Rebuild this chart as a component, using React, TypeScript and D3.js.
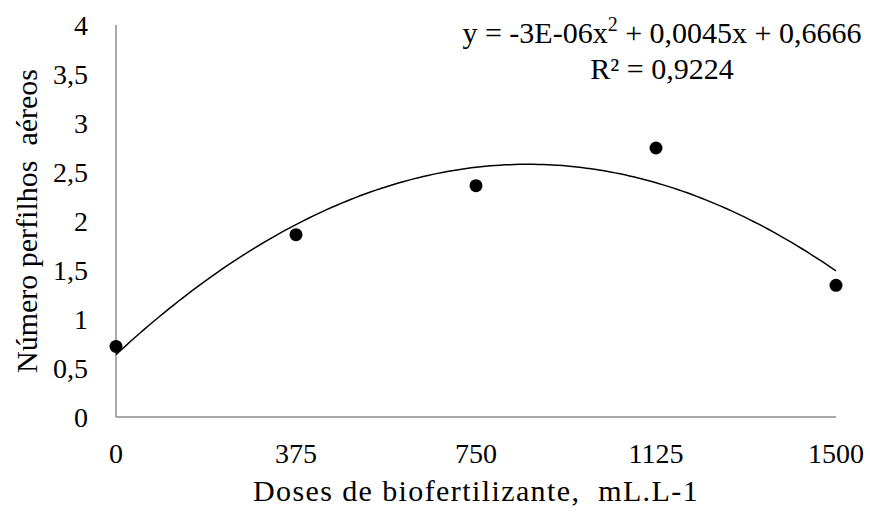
import React, { useEffect, useRef } from 'react';
import * as d3 from 'd3';

const doses = [0, 375, 750, 1125, 1500];
const perfilhos = [0.72, 1.86, 2.36, 2.745, 1.344];
const yTicks = [0, 0.5, 1, 1.5, 2, 2.5, 3, 3.5, 4];
const xTicks = [0, 375, 750, 1125, 1500];
const equationLabel = ['y = -3E-06x', '2', ' + 0,0045x + 0,6666'];
const r2Label = 'R² = 0,9224';
const xTitle = 'Doses de biofertilizante,  mL.L-1';
const yTitle = 'Número perfilhos  aéreos';

// least squares quadratic fit (what the spreadsheet trendline does)
function fitQuadratic(xs: number[], ys: number[]) {
  const s = [0, 0, 0, 0, 0];
  const t = [0, 0, 0];
  xs.forEach((x, i) => {
    for (let k = 0; k < 5; k++) s[k] += Math.pow(x, k);
    for (let k = 0; k < 3; k++) t[k] += Math.pow(x, k) * ys[i];
  });
  const m = [
    [s[0], s[1], s[2], t[0]],
    [s[1], s[2], s[3], t[1]],
    [s[2], s[3], s[4], t[2]],
  ];
  for (let c = 0; c < 3; c++) {
    for (let r = c + 1; r < 3; r++) {
      const f = m[r][c] / m[c][c];
      for (let k = c; k < 4; k++) m[r][k] -= f * m[c][k];
    }
  }
  const coef = [0, 0, 0];
  for (let r = 2; r >= 0; r--) {
    let v = m[r][3];
    for (let k = r + 1; k < 3; k++) v -= m[r][k] * coef[k];
    coef[r] = v / m[r][r];
  }
  return (x: number) => coef[0] + coef[1] * x + coef[2] * x * x;
}

const FONT = '"Times New Roman", "Liberation Serif", "DejaVu Serif", serif';

export default function App() {
  const svgRef = useRef<SVGSVGElement>(null);

  useEffect(() => {
    const svg = d3.select(svgRef.current);
    svg.selectAll('*').remove();

    const x = d3.scaleLinear().domain([0, 1500]).range([116, 836]);
    const y = d3.scaleLinear().domain([0, 4]).range([417, 25]);

    // axes
    svg.append('line')
      .attr('x1', x(0)).attr('x2', x(0))
      .attr('y1', y(0)).attr('y2', y(4))
      .attr('stroke', '#8c8c8c').attr('stroke-width', 1.5);
    svg.append('line')
      .attr('x1', x(0)).attr('x2', x(1500))
      .attr('y1', y(0)).attr('y2', y(0))
      .attr('stroke', '#8c8c8c').attr('stroke-width', 1.5);

    svg.selectAll('text.ytick')
      .data(yTicks)
      .enter()
      .append('text')
      .attr('class', 'ytick')
      .attr('x', 88)
      .attr('y', (d) => y(d) + 10)
      .attr('text-anchor', 'end')
      .text((d) => String(d).replace('.', ','));

    svg.selectAll('text.xtick')
      .data(xTicks)
      .enter()
      .append('text')
      .attr('class', 'xtick')
      .attr('x', (d) => x(d))
      .attr('y', 463)
      .attr('text-anchor', 'middle')
      .text((d) => String(d));

    // titles
    svg.append('text')
      .attr('x', 476)
      .attr('y', 501)
      .attr('text-anchor', 'middle')
      .attr('xml:space', 'preserve')
      .style('white-space', 'pre')
      .style('font-size', '30px')
      .style('letter-spacing', '1.4px')
      .text(xTitle);

    svg.append('text')
      .attr('transform', 'translate(37,221) rotate(-90)')
      .attr('text-anchor', 'middle')
      .attr('xml:space', 'preserve')
      .style('white-space', 'pre')
      .style('font-size', '30px')
      .text(yTitle);

    // trendline
    const f = fitQuadratic(doses, perfilhos);
    const curve = d3.range(0, 1501, 10).map((v) => [v, f(v)] as [number, number]);
    svg.append('path')
      .datum(curve)
      .attr('fill', 'none')
      .attr('stroke', '#000')
      .attr('stroke-width', 1.5)
      .attr('d', d3.line<[number, number]>().x((d) => x(d[0])).y((d) => y(d[1])));

    // points
    svg.selectAll('circle')
      .data(doses)
      .enter()
      .append('circle')
      .attr('cx', (d) => x(d))
      .attr('cy', (d, i) => y(perfilhos[i]))
      .attr('r', 6.5)
      .attr('fill', '#000');

    // equation
    const eq = svg.append('text')
      .attr('x', 662)
      .attr('y', 43)
      .attr('text-anchor', 'middle')
      .attr('xml:space', 'preserve')
      .style('white-space', 'pre')
      .style('font-size', '30px');
    eq.append('tspan').text(equationLabel[0]);
    eq.append('tspan').attr('dy', -12).style('font-size', '20px').text(equationLabel[1]);
    eq.append('tspan').attr('dy', 12).text(equationLabel[2]);

    svg.append('text')
      .attr('x', 662)
      .attr('y', 79)
      .attr('text-anchor', 'middle')
      .style('font-size', '30px')
      .text(r2Label);

    svg.selectAll('text').style('font-family', FONT);
  }, []);

  return (
    <div style={{ position: 'absolute', left: 0, top: 0 }}>
      <svg
        ref={svgRef}
        width={870}
        height={512}
        fontSize={28}
        fill="#000"
        style={{ display: 'block', background: '#fff', fontFamily: FONT }}
      />
    </div>
  );
}
